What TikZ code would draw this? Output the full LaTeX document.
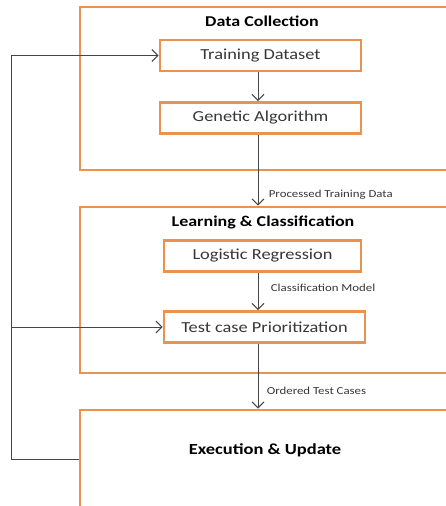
\documentclass[tikz,border=0pt]{standalone}
\usepackage{fontspec}
\setmainfont{Carlito}[FakeStretch=1.2]
\usetikzlibrary{arrows.meta, positioning}
\definecolor{boxorange}{RGB}{234,146,78}
\definecolor{textgray}{RGB}{55,55,55}
\definecolor{linegray}{RGB}{70,70,70}

\tikzset{
  outerbox/.style={draw=boxorange, line width=2.8pt, fill=white, inner sep=0pt},
  innerbox/.style={draw=boxorange, line width=2.8pt, fill=white, inner sep=0pt,
    minimum height=31pt, text=textgray, font=\fontsize{15.3}{17}\selectfont},
  boxtitle/.style={text=black, font=\bfseries\fontsize{15}{17}\selectfont},
  flowlbl/.style={text=textgray, font=\fontsize{10.7}{12}\selectfont, anchor=west},
  flow/.style={draw=linegray, line width=1pt, -{Straight Barb[length=6pt, width=12pt]}}
}

\begin{document}
\begin{tikzpicture}[x=1pt, y=-1pt]
    % Page frame
    \useasboundingbox (0,0) rectangle (445,506);

    % Outer stages
    \node[outerbox, minimum width=380pt, minimum height=163pt] (dc) at (270,88.5) {};
    \node[outerbox, minimum width=380pt, minimum height=166pt] (lc) at (270,290) {};
    \node[outerbox, minimum width=380pt, minimum height=98pt] (eu) at (270,459) {};

    % Stage titles
    \node[boxtitle] (dctitle) at (262,21) {Data Collection};
    \node[boxtitle] (lctitle) at (263,222) {Learning \& Classification};
    \node[boxtitle, font=\bfseries\fontsize{15.4}{17}\selectfont] (eutitle) at (265,450) {Execution \& Update};

    % Inner steps
    \node[innerbox, minimum width=201pt] (tds) at (260.5,55.5) {Training Dataset};
    \node[innerbox, minimum width=201pt] (ga) at (260.5,118) {Genetic Algorithm};
    \node[innerbox, minimum width=197pt] (lr) at (262.5,256) {Logistic Regression};
    \node[innerbox, minimum width=201pt] (tcp) at (264.5,327) {Test case Prioritization};

    % Main flow on one vertical line
    \coordinate (spine) at (258,0);
    \draw[flow] (tds.south -| spine) -- (ga.north -| spine);
    \draw[flow] (ga.south -| spine) -- (lc.north -| spine)
        node[flowlbl, pos=0.84, xshift=7pt] (ptd) {Processed Training Data};
    \draw[flow] (lr.south -| spine) -- (tcp.north -| spine)
        node[flowlbl, pos=0.39, xshift=9pt] (cm) {Classification Model};
    \draw[flow] (tcp.south -| spine) -- (eu.north -| spine)
        node[flowlbl, pos=0.73, xshift=5pt] (otc) {Ordered Test Cases};

    % Feedback loop
    \coordinate (fb) at (11,459);
    \draw[draw=linegray, line width=1pt] (eu.west) -- (fb);
    \draw[flow] (fb) |- (tds.west);
    \draw[flow] (fb |- tcp.west) -- (tcp.west);
\end{tikzpicture}
\end{document}
